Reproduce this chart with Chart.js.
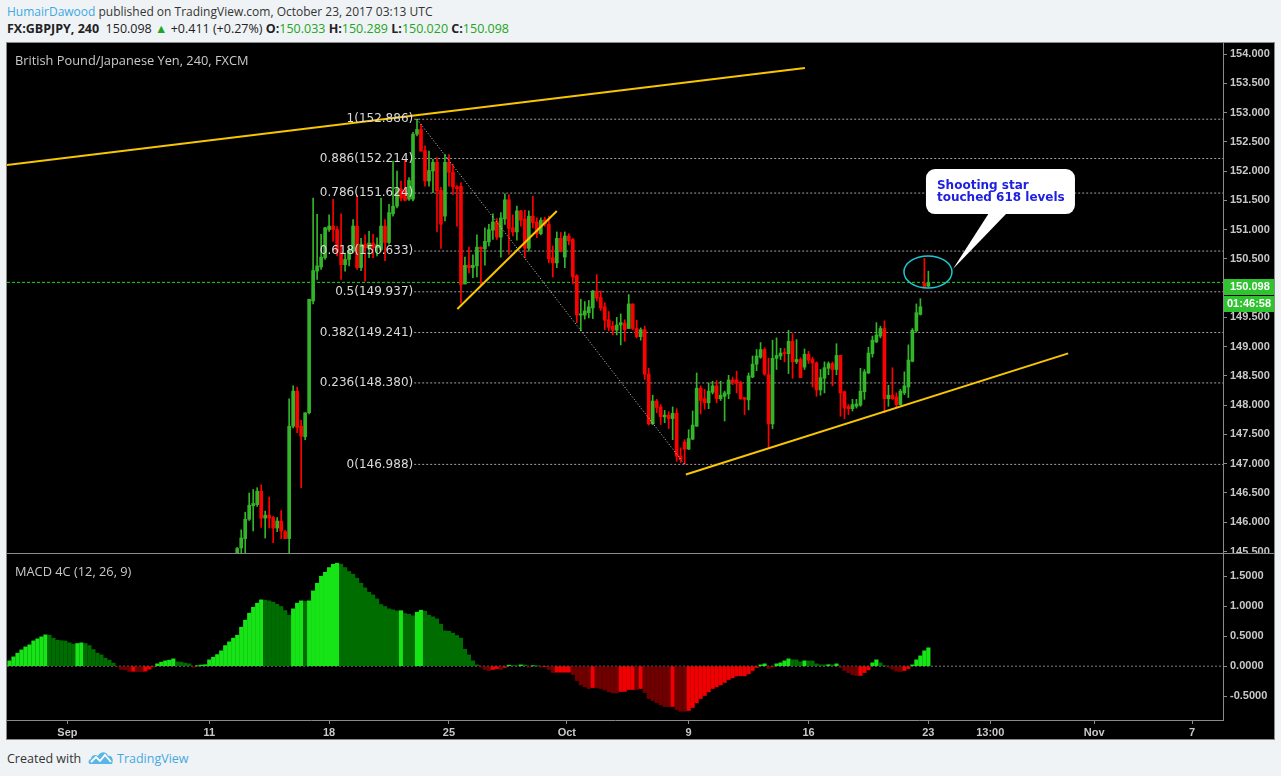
<!DOCTYPE html>
<html><head><meta charset="utf-8">
<script src="https://cdn.jsdelivr.net/npm/chart.js@4.4.0/dist/chart.umd.min.js"></script>
<style>
html,body{margin:0;padding:0;}
body{width:1281px;height:776px;background:#f0f3f6;position:relative;overflow:hidden;font-family:"Open Sans",sans-serif;}
.abs{position:absolute;white-space:nowrap;}
#h1{left:7px;top:4px;font-size:12px;line-height:16px;color:#333;}
#h1 .u{color:#3ea8e0;}
#h2{left:7px;top:21px;font-size:12.5px;line-height:16px;color:#222;}
#h2 b{font-weight:700;}
.g{color:#22a622;}
#panel{position:absolute;left:6px;top:42px;width:1267px;height:696px;border:1px solid #8a8a8a;background:#000;}
#c1{position:absolute;left:0;top:0;}
#c2{position:absolute;left:0;top:510px;}
#sep{position:absolute;left:0;top:510px;width:1267px;height:1px;background:#8a8a8a;}
.ptitle{position:absolute;color:#c9c9c9;font-size:12.8px;line-height:16px;white-space:nowrap;}
#foot{left:7px;top:750px;font-size:12.5px;line-height:16px;color:#333;}
#foot .tv{color:#45a9df;}
</style></head>
<body>
<div id="h1" class="abs"><span class="u">HumairDawood</span> published on TradingView.com, October 23, 2017 03:13 UTC</div>
<div id="h2" class="abs"><b>FX:GBPJPY, 240</b>&nbsp; 150.098 <span class="g">&#9650;</span> +0.411 (+0.27%) <b>O:</b><span class="g">150.033</span> <b>H:</b><span class="g">150.289</span> <b>L:</b><span class="g">150.020</span> <b>C:</b><span class="g">150.098</span></div>
<div id="panel">
  <canvas id="c1" width="1267" height="510"></canvas>
  <canvas id="c2" width="1267" height="186"></canvas>
  <div id="sep"></div>
  <div class="ptitle" style="left:8px;top:9px;">British Pound/Japanese Yen, 240, FXCM</div>
  <div class="ptitle" style="left:8px;top:520px;">MACD 4C (12, 26, 9)</div>
</div>
<div id="foot" class="abs">Created with&nbsp;&nbsp;<svg width="26" height="15" viewBox="0 0 26 15" style="vertical-align:-2px"><path d="M2 14 C0 14 0 9 3 9 C3 5 8 4 10 6 C12 1 19 1 20 6 C24 5 26 10 24 14 Z" fill="#5ab6e6"/><polyline points="3,12 8,7 12,11 17,5 23,12" fill="none" stroke="#fff" stroke-width="1.8"/></svg>&nbsp;<span class="tv">TradingView</span></div>

<script>
// ---------------- DATA ----------------
const FIRST_K = 57; // index of first candle stored below (4h bars counted from the left edge)
const candleOpen = [
145.46,145.56,145.72,146.05,146.28,146.30,146.53,146.07,146.12,146.08,
145.90,146.02,145.84,145.72,147.64,148.24,147.64,147.46,147.87,149.78,
150.29,150.36,150.52,151.00,151.06,151.00,150.62,150.40,150.49,150.63,
151.06,150.35,150.75,150.69,150.77,150.69,150.66,151.06,150.78,151.27,
151.40,151.69,151.66,151.52,151.52,152.63,152.71,152.35,151.83,152.00,
152.15,151.67,151.23,152.15,151.98,151.73,151.74,150.07,150.39,150.35,
150.38,150.70,150.67,150.79,150.99,151.13,150.87,151.18,151.51,151.03,
150.96,151.32,151.18,150.68,151.23,151.13,150.93,151.17,151.09,150.52,
150.43,150.85,150.53,150.89,150.83,150.21,149.54,149.54,149.58,149.66,
149.95,149.84,149.68,149.46,149.35,149.28,149.37,149.40,149.31,149.73,
149.31,149.17,149.29,148.53,147.68,148.07,147.97,147.80,147.83,147.77,
147.86,147.13,147.37,147.25,147.42,147.64,148.29,148.11,148.04,148.22,
148.33,148.11,148.15,148.19,148.43,148.43,148.38,148.13,148.09,148.48,
148.70,148.82,148.95,148.52,147.68,148.80,148.84,148.89,148.88,149.09,
148.74,148.78,148.65,148.87,148.78,148.72,148.26,148.46,148.63,148.71,
148.61,148.85,148.23,147.98,147.94,147.98,148.00,148.23,148.55,148.88,
149.08,149.18,149.31,148.11,148.17,148.14,148.01,148.21,148.31,148.75,
149.27,149.55,150.08,150.033];
const candleHigh = [
145.57,145.87,146.17,146.50,146.56,146.59,146.64,146.19,146.43,146.10,
146.08,146.20,145.86,148.11,148.33,148.31,147.74,147.87,149.81,151.54,
151.26,150.92,151.04,151.25,151.52,151.05,151.27,150.60,150.69,151.17,
151.58,150.85,150.91,150.97,150.92,150.86,151.54,151.17,151.43,152.17,
152.00,151.83,152.20,151.89,152.66,152.886,152.80,152.43,152.34,152.20,
152.23,151.72,152.28,152.28,152.11,151.75,151.80,150.53,150.70,150.57,
150.91,150.70,151.03,151.09,151.27,151.19,151.29,151.61,151.60,151.25,
151.40,151.33,151.33,151.32,151.57,151.20,151.20,151.21,151.23,150.72,
150.96,150.95,150.96,150.93,150.85,150.23,149.81,149.77,149.79,149.96,
150.23,149.95,149.75,149.60,149.43,149.50,149.56,149.46,149.89,149.73,
149.45,149.32,149.35,148.63,148.17,148.10,148.01,147.91,147.89,147.97,
147.94,147.27,147.41,147.58,147.90,148.55,148.33,148.27,148.38,148.41,
148.42,148.41,148.24,148.51,148.48,148.58,148.41,148.13,148.55,148.84,
148.95,149.07,148.98,148.80,149.11,149.15,148.97,148.97,149.28,149.22,
149.12,148.81,148.96,148.92,148.82,148.74,148.61,148.74,148.74,148.74,
149.05,148.85,148.24,148.01,148.10,148.10,148.63,148.61,148.99,149.18,
149.41,149.35,149.44,148.34,148.64,148.21,148.27,148.57,149.03,149.31,
149.73,149.82,150.51,150.289];
const candleLow = [
145.44,145.45,145.45,146.03,145.85,146.27,145.91,145.73,145.90,145.65,
145.84,145.72,145.72,145.45,147.61,147.53,146.59,147.41,147.85,149.73,
150.15,150.32,150.49,150.97,150.80,150.55,150.15,150.29,150.38,150.60,
150.32,150.30,150.12,150.52,150.52,150.55,150.63,150.47,150.75,151.23,
151.37,151.49,151.49,151.50,151.49,152.60,152.34,151.74,151.74,151.63,
150.96,150.68,151.15,151.74,151.60,151.06,149.75,150.07,150.26,150.18,
150.19,150.06,150.39,150.72,150.83,150.83,150.53,151.09,150.58,150.89,
150.82,151.06,150.52,150.63,151.03,150.86,150.91,151.06,150.43,150.19,
150.35,150.62,150.35,150.74,150.07,149.41,149.27,149.47,149.49,149.48,
149.78,149.62,149.29,149.27,149.20,149.20,149.03,149.09,149.31,149.29,
149.15,149.11,148.44,147.66,147.67,147.87,147.67,147.70,147.60,147.41,
147.04,147.02,146.988,147.24,147.41,147.64,147.85,147.93,147.94,148.19,
148.04,148.08,147.73,148.11,148.35,148.21,148.10,147.84,147.92,148.47,
148.59,148.80,148.51,147.28,147.60,148.61,148.78,148.74,148.54,148.46,
148.71,148.47,148.61,148.71,148.31,148.15,148.17,148.21,148.52,148.33,
148.52,147.81,147.77,147.84,147.90,147.95,147.98,148.10,148.54,148.82,
149.07,149.15,147.87,147.98,148.10,147.95,148.00,148.18,148.13,148.74,
149.25,149.54,150.02,150.020];
const candleClose = [
145.55,145.73,146.05,146.29,146.32,146.53,146.07,146.12,146.07,145.90,
146.02,145.85,145.72,147.64,148.24,147.62,147.47,147.87,149.81,150.30,
150.38,150.53,151.03,151.06,151.00,150.62,150.40,150.49,150.64,151.06,
150.35,150.75,150.69,150.77,150.69,150.74,151.06,150.78,151.29,151.40,
151.69,151.54,151.50,151.84,152.63,152.71,152.34,151.83,152.01,152.15,
151.66,151.09,152.15,151.98,151.73,151.70,150.06,150.39,150.35,150.39,
150.70,150.67,150.80,151.00,151.13,150.87,151.20,151.51,151.02,150.96,
151.32,151.16,150.68,151.23,151.12,150.93,151.16,151.10,150.50,150.43,
150.85,150.63,150.89,150.81,150.19,149.54,149.56,149.61,149.68,149.95,
149.83,149.66,149.45,149.33,149.28,149.37,149.41,149.29,149.73,149.31,
149.17,149.29,148.53,147.68,148.07,147.96,147.80,147.83,147.77,147.86,
147.13,147.07,147.25,147.43,147.66,148.29,148.08,148.04,148.24,148.33,
148.11,148.17,148.21,148.43,148.39,148.38,148.11,148.10,148.50,148.70,
148.84,148.95,148.53,147.68,148.80,148.85,148.89,148.88,149.09,148.74,
148.78,148.47,148.87,148.77,148.72,148.26,148.47,148.64,148.71,148.61,
148.85,148.21,147.95,147.94,148.01,148.02,148.24,148.57,148.89,149.11,
149.20,149.31,148.11,148.17,148.11,148.01,148.24,148.33,148.77,149.28,
149.58,149.68,150.02,150.098];

// MACD 4C histogram, one value per 4h bar starting at bar 0
const macdValues = [
0.089,0.156,0.217,0.272,0.322,0.356,0.422,0.456,0.489,0.522,
0.517,0.467,0.433,0.425,0.420,0.389,0.367,0.378,0.389,0.378,
0.344,0.278,0.217,0.189,0.133,0.100,0.050,-0.011,-0.055,-0.060,
-0.089,-0.085,-0.089,-0.092,-0.083,-0.050,-0.010,0.039,0.067,0.089,
0.100,0.122,0.072,0.067,0.050,0.039,-0.017,0.005,0.020,0.025,
0.106,0.150,0.194,0.256,0.344,0.406,0.467,0.517,0.650,0.767,
0.883,0.983,1.050,1.106,1.100,1.089,1.067,1.033,0.994,0.928,
0.850,0.956,1.050,1.089,1.083,1.090,1.256,1.383,1.500,1.567,
1.644,1.700,1.717,1.700,1.644,1.578,1.533,1.467,1.383,1.306,
1.233,1.189,1.122,1.028,0.994,0.956,0.939,0.922,0.925,0.878,
0.867,0.839,0.900,0.933,0.917,0.850,0.822,0.789,0.700,0.589,
0.583,0.550,0.511,0.467,0.283,0.189,0.089,0.022,-0.017,-0.055,
-0.072,-0.055,-0.040,-0.055,-0.020,0.017,0.011,0.005,0.022,0.020,
-0.017,0.005,0.004,-0.017,-0.005,-0.055,-0.105,-0.100,-0.100,-0.100,
-0.100,-0.139,-0.239,-0.311,-0.344,-0.372,-0.356,-0.360,-0.372,-0.394,
-0.428,-0.444,-0.446,-0.422,-0.420,-0.389,-0.389,-0.390,-0.372,-0.439,
-0.539,-0.572,-0.606,-0.644,-0.672,-0.673,-0.672,-0.722,-0.750,-0.752,
-0.739,-0.689,-0.611,-0.539,-0.489,-0.428,-0.372,-0.344,-0.311,-0.272,
-0.222,-0.194,-0.161,-0.161,-0.160,-0.128,-0.072,-0.022,0.022,0.039,
-0.039,-0.010,0.039,0.056,0.089,0.122,0.106,0.105,0.072,0.089,
0.088,0.087,0.039,0.022,0.021,0.025,0.022,0.039,-0.022,-0.072,
-0.106,-0.139,-0.156,-0.155,-0.106,-0.061,0.056,0.106,0.056,0.002,
-0.017,-0.050,-0.083,-0.089,-0.072,-0.039,0.022,0.106,0.172,0.256,
0.306];

const priceTicks = [145.5,146,146.5,147,147.5,148,148.5,149,149.5,150.5,151,151.5,152,152.5,153,153.5,154];
const macdTicks = [-0.5,0,0.5,1,1.5];
const timeTickPos = [14.5,50,80,110,139.5,170,200,230,245.5,271.5,296];
const timeTickLabels = ['Sep','11','18','25','Oct','9','16','23','13:00','Nov','7'];

const fibRatioLabels = ['1','0.886','0.786','0.618','0.5','0.382','0.236','0'];
const fibPrices = [152.886,152.214,151.624,150.633,149.937,149.241,148.380,146.988];
const fibStartK = 101.3;
const fibDiagonal = [[102,152.886],[169,146.988]];

const trendUpper = [[-0.63,152.104],[199.1,153.761]];
const trendSmall = [[112.1,149.643],[137.0,151.318]];
const trendLower = [[169.3,146.816],[265.0,148.885]];

const lastPrice = 150.098;
const countdownText = '01:46:58';
const noteAnchor = [229.9,150.275];
const noteLines = ['Shooting star','touched 618 levels'];

// ---------------- STYLE ----------------
const X_MIN = -0.626, X_MAX = 303.75;
const UP = '#33b52a', DOWN = '#ff0000';
const AXIS = '#8a8a8a', TXT = '#c8c8c8';
const tickFont = {family:'"Liberation Sans", Arial, sans-serif', size:11, weight:'bold'};

function lineDs(points, color, width, dash, order){
  return {type:'line', data: points.map(p=>({x:p[0], y:p[1]})), borderColor:color, borderWidth:width,
    borderDash: dash||[], pointRadius:0, pointHoverRadius:0, fill:false, tension:0, order:order};
}

const ks = candleOpen.map((_,i)=>FIRST_K+i);
const upFlag = candleOpen.map((o,i)=>candleClose[i]>=o);

const priceDatasets = [];
fibPrices.forEach(p=>priceDatasets.push(lineDs([[fibStartK,p],[X_MAX,p]],'rgba(190,190,190,0.85)',1,[2,2],20)));
priceDatasets.push(lineDs([[X_MIN,lastPrice],[X_MAX,lastPrice]],'#1fd81f',1,[3,2],15));
priceDatasets.push({type:'bar', data: ks.map((k,i)=>({x:k, y:[candleLow[i],candleHigh[i]]})),
  backgroundColor: upFlag.map(u=>u?UP:DOWN), barThickness:1, grouped:false, order:10});
priceDatasets.push({type:'bar', data: ks.map((k,i)=>({x:k, y:[Math.min(candleOpen[i],candleClose[i]),Math.max(candleOpen[i],candleClose[i])]})),
  backgroundColor: upFlag.map(u=>u?UP:DOWN), barThickness:3, minBarLength:1, grouped:false, order:9});
priceDatasets.push(lineDs(fibDiagonal,'rgba(230,230,230,0.9)',1,[1,2],3));
priceDatasets.push(lineDs(trendUpper,'#f7c600',2,[],1));
priceDatasets.push(lineDs(trendSmall,'#f7c600',2,[],1));
priceDatasets.push(lineDs(trendLower,'#f7c600',2,[],1));

const overlay = {
  id:'overlay',
  afterDatasetsDraw(chart){
    const {ctx, chartArea} = chart; const x = chart.scales.x, y = chart.scales.y;
    ctx.save();
    ctx.beginPath(); ctx.rect(chartArea.left,chartArea.top,chartArea.right-chartArea.left,chartArea.bottom-chartArea.top); ctx.clip();
    ctx.font = '12px "DejaVu Sans"'; ctx.fillStyle = '#dadada';
    ctx.textAlign = 'right'; ctx.textBaseline = 'middle';
    const lx = x.getPixelForValue(fibStartK) - 1;
    fibPrices.forEach((p,i)=>ctx.fillText(fibRatioLabels[i]+'('+p.toFixed(3)+')', lx, y.getPixelForValue(p)));
    const cx = x.getPixelForValue(noteAnchor[0]), cy = y.getPixelForValue(noteAnchor[1]);
    ctx.strokeStyle = '#1fc6d3'; ctx.lineWidth = 1.5;
    ctx.beginPath(); ctx.ellipse(cx,cy,24,16,0,0,Math.PI*2); ctx.stroke();
    const bx = cx-2, by = cy-103, bw = 149, bh = 45;
    ctx.fillStyle = '#ffffff';
    ctx.beginPath(); ctx.roundRect(bx,by,bw,bh,9); ctx.fill();
    ctx.beginPath(); ctx.moveTo(bx+63,by+bh-1); ctx.lineTo(bx+81,by+bh-1); ctx.lineTo(cx+25,cy-3); ctx.closePath(); ctx.fill();
    ctx.fillStyle = '#2020e0'; ctx.font = 'bold 12px "DejaVu Sans"';
    ctx.textAlign = 'left'; ctx.textBaseline = 'alphabetic';
    ctx.fillText(noteLines[0], bx+11, by+19.5);
    ctx.fillText(noteLines[1], bx+11, by+32);
    ctx.restore();
  },
  afterDraw(chart){
    const {ctx, chartArea} = chart; const y = chart.scales.y;
    const yp = y.getPixelForValue(lastPrice);
    const left = chartArea.right+1, w = chart.width-left;
    ctx.save();
    ctx.fillStyle = '#30c330';
    ctx.fillRect(left, Math.round(yp-3.5), w, 16);
    ctx.fillRect(left, Math.round(yp+13.5), w, 16);
    ctx.fillStyle = '#ffffff'; ctx.font = 'bold 11px "Liberation Sans", Arial';
    ctx.textAlign = 'left'; ctx.textBaseline = 'middle';
    ctx.fillText(lastPrice.toFixed(3), chartArea.right+7, Math.round(yp+4.5));
    ctx.fillText(countdownText, chartArea.right+4, Math.round(yp+21.5));
    ctx.restore();
  }
};

const common = {
  responsive:false, animation:false, devicePixelRatio:1,
  layout:{padding:0, autoPadding:false},
  plugins:{legend:{display:false}, tooltip:{enabled:false}},
  events:[]
};

new Chart(document.getElementById('c1'), {
  type:'bar',
  data:{datasets: priceDatasets},
  options: Object.assign({}, common, {
    scales:{
      x:{type:'linear', min:X_MIN, max:X_MAX, display:false, offset:false, grid:{offset:false}},
      y:{type:'linear', position:'right', min:145.474, max:154.188,
        afterBuildTicks(s){ s.ticks = priceTicks.map(v=>({value:v})); },
        afterFit(s){ s.width = 51; s.paddingTop = 0; s.paddingBottom = 0; },
        ticks:{callback:v=>Number(v).toFixed(3), color:TXT, font:tickFont, padding:3, autoSkip:false},
        grid:{drawOnChartArea:false, tickLength:4, color:AXIS},
        border:{color:AXIS}}
    }
  }),
  plugins:[overlay]
});

const macdColors = macdValues.map((v,i)=>{
  const prev = i>0 ? macdValues[i-1] : 0;
  if (v > 0) return v > prev ? '#16e416' : '#006d00';
  return v < prev ? '#700000' : '#f00000';
});

new Chart(document.getElementById('c2'), {
  type:'bar',
  data:{datasets:[
    lineDs([[X_MIN,0],[X_MAX,0]],'#7a7a7a',1,[2,2],5),
    {type:'bar', data: macdValues.map((v,k)=>({x:k, y:v})), backgroundColor: macdColors,
      barThickness:3.5, grouped:false, order:1}
  ]},
  options: Object.assign({}, common, {
    scales:{
      x:{type:'linear', min:X_MIN, max:X_MAX, offset:false,
        afterBuildTicks(s){ s.ticks = timeTickPos.map(v=>({value:v})); },
        afterFit(s){ s.height = 19; s.paddingLeft = 0; s.paddingRight = 0; },
        ticks:{callback:v=>timeTickLabels[timeTickPos.indexOf(v)], color:TXT, font:tickFont, padding:2, autoSkip:false, maxRotation:0},
        grid:{drawOnChartArea:false, tickLength:4, color:AXIS, offset:false},
        border:{color:AXIS}},
      y:{type:'linear', position:'right', min:-0.897, max:1.887,
        afterBuildTicks(s){ s.ticks = macdTicks.map(v=>({value:v})); },
        afterFit(s){ s.width = 51; s.paddingTop = 0; s.paddingBottom = 0; },
        ticks:{callback:v=>Number(v).toFixed(4), color:TXT, font:tickFont, padding:3, autoSkip:false},
        grid:{drawOnChartArea:false, tickLength:4, color:AXIS},
        border:{color:AXIS}}
    }
  })
});
</script>
</body></html>
